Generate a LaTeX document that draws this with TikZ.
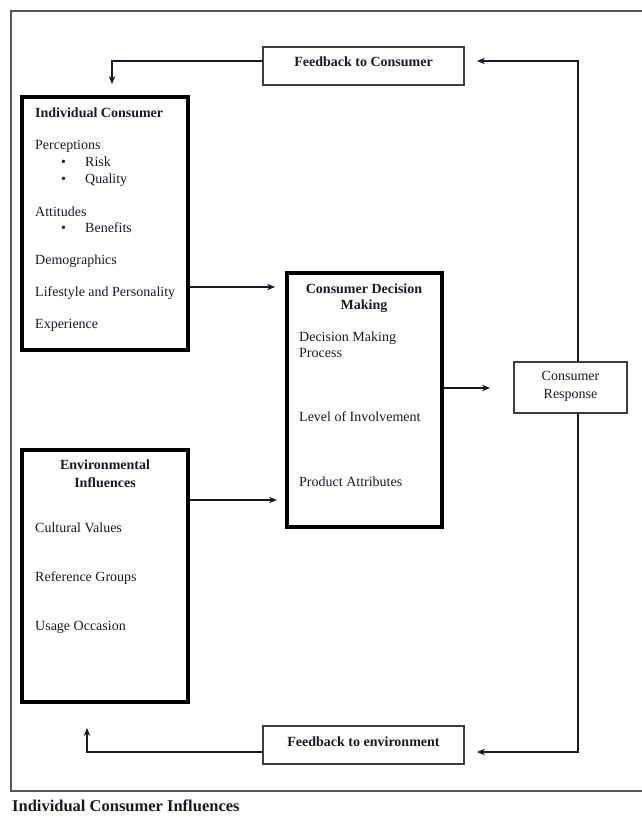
\documentclass[tikz,border=0pt]{standalone}
\usepackage{fontspec}
\setmainfont{Liberation Serif}
\usetikzlibrary{arrows.meta,calc}
\definecolor{ink}{RGB}{25,25,35}
\definecolor{frame}{RGB}{85,85,85}
\tikzset{
  txt/.style={anchor=base west, inner sep=0pt, font=\fontsize{14}{17}\selectfont, text=ink},
  ctxt/.style={anchor=base, inner sep=0pt, font=\fontsize{14}{17}\selectfont, text=ink, align=center},
  thinbox/.style={draw=ink!85, line width=1.3pt, inner sep=0pt},
  thickbox/.style={draw=black, line width=4pt, inner sep=0pt},
  conn/.style={draw=ink, line width=1.1pt},
  arr/.style={conn, -{Stealth[length=8pt,width=6.5pt]}}
}
\begin{document}
\begin{tikzpicture}[x=1pt,y=-1pt]
\useasboundingbox (0,0) rectangle (641,818);
% outer frame (right side lies outside the picture)
\draw[frame, line width=1.4pt] (645,11) -- (11,11) -- (11,791) -- (645,791);

% boxes
\node[thinbox, minimum width=201pt, minimum height=38pt] (fbc) at (363.5,66) {};
\node[thinbox, minimum width=201pt, minimum height=38pt] (fbe) at (363.5,745) {};
\node[thickbox, minimum width=166pt, minimum height=253pt] (ic) at (105,223.5) {};
\node[thickbox, minimum width=166pt, minimum height=252pt] (env) at (105,576) {};
\node[thickbox, minimum width=155pt, minimum height=254pt] (cdm) at (364.5,400) {};
\node[thinbox, minimum width=113pt, minimum height=51pt] (cr) at (570.5,387.5) {};

% texts
\node[ctxt, font=\fontsize{14}{17}\selectfont\bfseries] (fbct) at (363.5,66.5) {Feedback to Consumer};
\node[ctxt, font=\fontsize{14}{17}\selectfont\bfseries] (fbet) at (363.5,746.5) {Feedback to environment};

\node[txt, font=\fontsize{14}{17}\selectfont\bfseries] (ict) at (35,117.5) {Individual Consumer};
\node[txt] (ic1) at (35,149.5) {Perceptions};
\node[txt] (b1) at (61,166.5) {•};
\node[txt] (ic2) at (85,166.5) {Risk};
\node[txt] (b2) at (61,183.5) {•};
\node[txt] (ic3) at (85,183.5) {Quality};
\node[txt] (ic4) at (35,216.5) {Attitudes};
\node[txt] (b3) at (61,232.5) {•};
\node[txt] (ic5) at (85,232.5) {Benefits};
\node[txt] (ic6) at (35,264.5) {Demographics};
\node[txt] (ic7) at (35,296.5) {Lifestyle and Personality};
\node[txt] (ic8) at (35,328.5) {Experience};

\node[ctxt, font=\fontsize{14}{16}\selectfont\bfseries] (cdmt) at (364,309.5) {Consumer Decision\\Making};
\node[txt] (cd1) at (299,341.5) {Decision Making};
\node[txt] (cd2) at (299,357.5) {Process};
\node[txt] (cd3) at (299,421.5) {Level of Involvement};
\node[txt] (cd4) at (299,486.5) {Product Attributes};

\node[ctxt, font=\fontsize{14}{18}\selectfont\bfseries] (envt) at (105,487.5) {Environmental\\Influences};
\node[txt] (en1) at (35,532.5) {Cultural Values};
\node[txt] (en2) at (35,581.5) {Reference Groups};
\node[txt] (en3) at (35,630.5) {Usage Occasion};

\node[ctxt, font=\fontsize{14}{18}\selectfont] (crt) at (570.5,398.5) {Consumer\\Response};

\node[txt, font=\fontsize{16.5}{20}\selectfont\bfseries] (cap) at (12,811) {Individual Consumer Influences};

% connector ends
\coordinate (t1) at (112,84);
\coordinate (t2) at (477,61);
\coordinate (t3) at (477,752);
\coordinate (t4) at (87,728);
\coordinate (t5) at (275,287);
\coordinate (t6) at (277,500);
\coordinate (t7) at (490,388);

% connectors
\draw[arr] ([yshift=5pt]fbc.west) -| (t1);
\draw[arr] ([xshift=7.5pt]cr.north) |- (t2);
\draw[arr] ([xshift=7.5pt]cr.south) |- (t3);
\draw[arr] ([yshift=-7pt]fbe.west) -| (t4);
\draw[arr] (ic.east |- t5) -- (t5);
\draw[arr] (env.east |- t6) -- (t6);
\draw[arr] (cdm.east |- t7) -- (t7);
\end{tikzpicture}
\end{document}
